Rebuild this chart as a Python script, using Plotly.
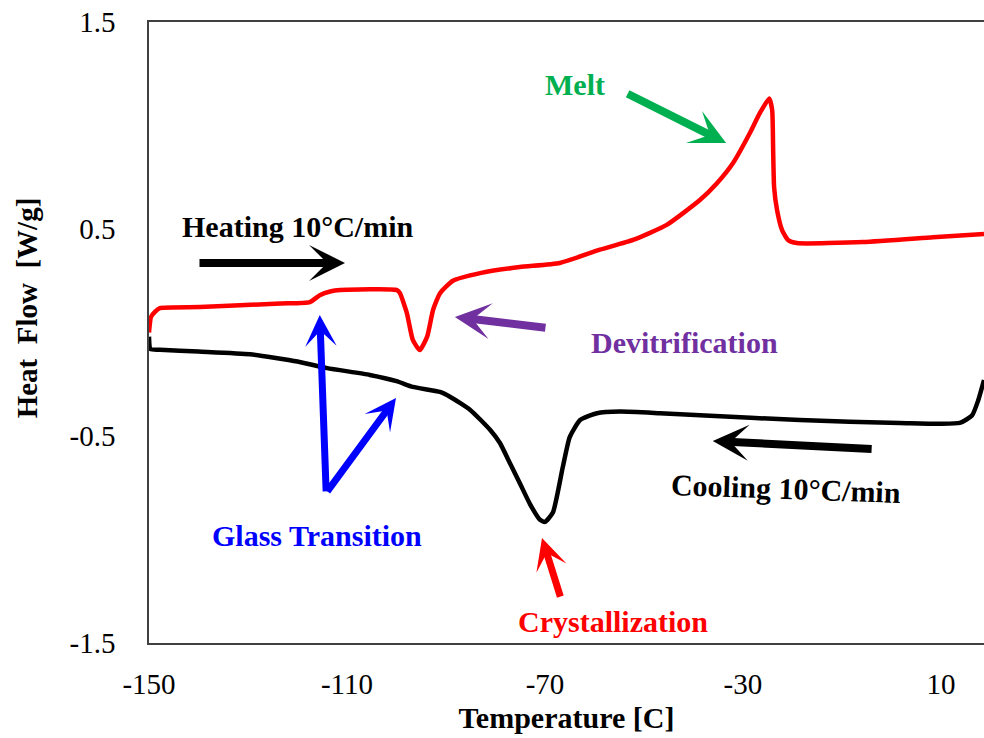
import plotly.graph_objects as go

# Heating curve (red)
heat_t = [-150.0, -149.6, -148.8, -147.8, -139.7, -123.5, -117.5, -115.5, -113.4, -111.4,
          -99.9, -99.3, -97.9, -96.7, -95.3, -93.8, -92.6, -91.2, -88.6, -83.1, -75.1,
          -67.0, -58.9, -52.2, -45.4, -38.7, -35.3, -32.0, -28.6, -26.6, -24.7, -24.1,
          -23.9, -23.7, -23.1, -22.1, -20.9, -19.1, -5.7, 8.4, 18.7]
heat_q = [0.0, 0.075, 0.10, 0.118, 0.123, 0.14, 0.147, 0.18, 0.198, 0.205,
          0.205, 0.19, 0.094, -0.036, -0.085, -0.02, 0.11, 0.19, 0.25, 0.287, 0.316,
          0.336, 0.40, 0.447, 0.52, 0.64, 0.72, 0.819, 0.964, 1.06, 1.13, 1.075,
          0.88, 0.70, 0.59, 0.495, 0.447, 0.432, 0.437, 0.46, 0.476]

# Cooling curve (black)
cool_t = [-150.0, -149.7, -147.8, -140.0, -129.6, -120.0, -114.0, -105.4, -100.0, -96.7,
          -91.2, -89.2, -85.1, -81.1, -79.1, -77.1, -75.1, -73.0, -71.0, -70.0, -68.4,
          -66.4, -65.0, -62.9, -59.5, -54.8, -46.8, -38.7, -18.5, 1.7, 13.8, 16.3,
          17.5, 18.7]
cool_q = [-0.02, -0.08, -0.083, -0.092, -0.105, -0.14, -0.172, -0.205, -0.235, -0.263,
          -0.287, -0.31, -0.374, -0.47, -0.534, -0.63, -0.727, -0.83, -0.905, -0.915, -0.87,
          -0.65, -0.505, -0.423, -0.39, -0.382, -0.39, -0.40, -0.423, -0.437, -0.437, -0.40,
          -0.33, -0.23]

x_ticks = [-150, -110, -70, -30, 10]
x_ticktext = ["-150", "-110", "-70", "-30", "10"]
y_ticks = [-1.5, -0.5, 0.5, 1.5]
y_ticktext = ["-1.5", "-0.5", "0.5", "1.5"]

FONT = "Liberation Serif, Times New Roman, serif"

fig = go.Figure()
fig.add_trace(go.Scatter(x=heat_t, y=heat_q, mode="lines",
                         line=dict(color="#FF0000", width=4.5, shape="spline", smoothing=0.5),
                         showlegend=False))
fig.add_trace(go.Scatter(x=cool_t, y=cool_q, mode="lines",
                         line=dict(color="#000000", width=4.5, shape="spline", smoothing=0.5),
                         showlegend=False))

def arrow(tail, tip, color, width):
    fig.add_annotation(x=tip[0], y=tip[1], ax=tail[0], ay=tail[1],
                       xref="x", yref="y", axref="x", ayref="y",
                       showarrow=True, arrowhead=3, arrowsize=0.75,
                       arrowwidth=width, arrowcolor=color, text="", standoff=0)

def label(pos, text, color, angle=0):
    fig.add_annotation(x=pos[0], y=pos[1], xref="x", yref="y", text="<b>%s</b>" % text,
                       showarrow=False, textangle=angle,
                       font=dict(family=FONT, size=30, color=color))

# Arrows
arrow((-140.1, 0.336), (-110.4, 0.336), "#000000", 8)
arrow((-3.7, -0.563), (-36.1, -0.524), "#000000", 8)
arrow((-53.6, 1.157), (-33.4, 0.915), "#00B050", 8)
arrow((-69.6, 0.022), (-88.2, 0.075), "#7030A0", 8)
arrow((-114.2, -0.775), (-115.5, 0.085), "#0000FF", 7)
arrow((-114.2, -0.775), (-100.1, -0.316), "#0000FF", 7)
arrow((-66.8, -1.283), (-70.6, -0.993), "#FF0000", 7)

# Labels
label((-63.9, 1.196), "Melt", "#00B050")
label((-119.9, 0.514), "Heating 10°C/min", "#000000")
label((-41.9, -0.046), "Devitrification", "#7030A0")
label((-116.1, -0.983), "Glass Transition", "#0000FF")
label((-21.3, -0.756), "Cooling 10°C/min", "#000000", angle=2)
label((-56.3, -1.394), "Crystallization", "#FF0000")

# Y axis title (placed as annotation to match the original's position)
fig.add_annotation(x=-0.146, y=0.539, xref="paper", yref="paper",
                   xanchor="center", yanchor="middle",
                   text="<b>Heat&nbsp; Flow&nbsp; [W/g]</b>", textangle=-90, showarrow=False,
                   font=dict(family=FONT, size=29, color="black"))

fig.update_layout(
    width=984, height=738,
    margin=dict(l=149, r=0, t=22, b=95),
    paper_bgcolor="white", plot_bgcolor="white",
    font=dict(family=FONT, color="black"),
    xaxis=dict(range=[-150, 18.7], tickvals=x_ticks, ticktext=x_ticktext,
               showgrid=False, zeroline=False, showline=True, linecolor="#404040",
               linewidth=1.5, mirror=True, ticks="", ticklabelstandoff=14,
               tickfont=dict(family=FONT, size=29, color="black"),
               title=dict(text="<b>Temperature [C]</b>", standoff=8,
                          font=dict(family=FONT, size=30, color="black"))),
    yaxis=dict(range=[-1.5, 1.5], tickvals=y_ticks, ticktext=y_ticktext,
               showgrid=False, zeroline=False, showline=True, linecolor="#404040",
               linewidth=1.5, mirror=False, ticks="", ticklabelstandoff=26,
               tickfont=dict(family=FONT, size=29, color="black")),
)

fig.write_html("out.html")
